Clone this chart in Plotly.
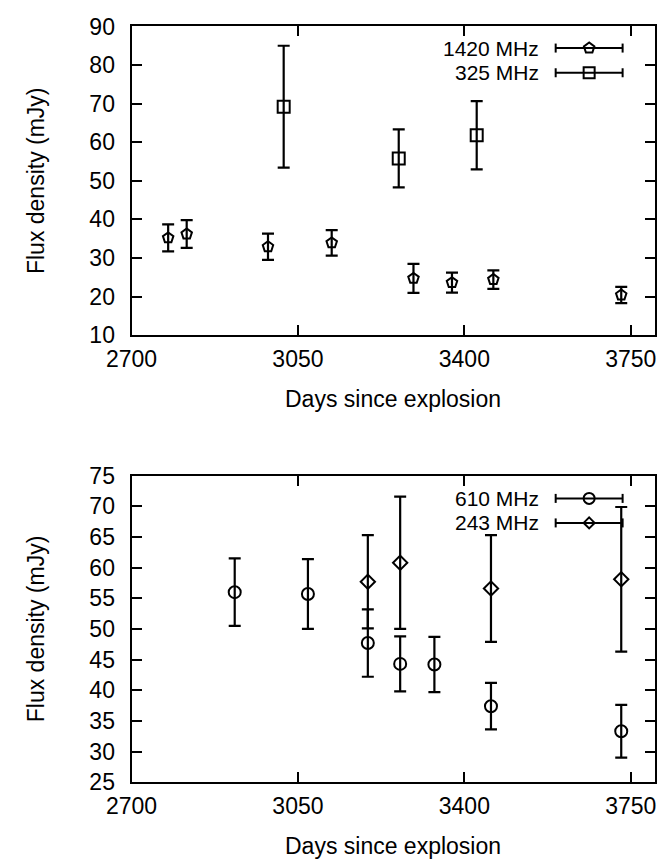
import math
import plotly.graph_objects as go

# ---- data ----
days_1420 = [2777, 2816, 2987, 3121, 3293, 3374, 3461, 3730]
flux_1420 = [35.2, 36.2, 32.9, 33.9, 24.7, 23.6, 24.4, 20.4]
err_1420 = [3.5, 3.6, 3.4, 3.3, 3.75, 2.6, 2.4, 2.1]

days_325 = [3020, 3262, 3426]
flux_325 = [69.2, 55.8, 61.8]
err_325 = [15.8, 7.5, 8.85]

days_610 = [2917, 3071, 3197, 3265, 3337, 3456, 3730]
flux_610 = [56.0, 55.7, 47.7, 44.3, 44.2, 37.4, 33.3]
err_610 = [5.5, 5.7, 5.5, 4.5, 4.5, 3.8, 4.3]

days_243 = [3197, 3265, 3456, 3730]
flux_243 = [57.7, 60.8, 56.6, 58.1]
err_243 = [7.6, 10.8, 8.7, 11.8]

x_ticks = [2700, 3050, 3400, 3750]
FONT = "Liberation Sans"
FS = 23
FS_LEG = 21

fig = go.Figure()


def add_series(x, y, e, symbol, size, xa, ya):
    fig.add_trace(go.Scatter(
        x=x, y=y, mode="markers", xaxis=xa, yaxis=ya, showlegend=False,
        marker=dict(symbol=symbol, size=size, color="black",
                    line=dict(color="black", width=2)),
        error_y=dict(type="data", array=e, visible=True, color="black",
                     thickness=2.2, width=6),
    ))


add_series(days_1420, flux_1420, err_1420, "pentagon-open", 11, "x", "y")
add_series(days_325, flux_325, err_325, "square-open", 12, "x", "y")
add_series(days_610, flux_610, err_610, "circle-open", 12, "x2", "y2")
add_series(days_243, flux_243, err_243, "diamond-open", 11, "x2", "y2")

axis_common = dict(
    showline=True, linecolor="black", linewidth=2, mirror="ticks",
    ticks="inside", ticklen=10, tickwidth=1.5, tickcolor="black",
    showgrid=False, zeroline=False,
    tickfont=dict(family=FONT, size=FS, color="black"),
)
xd = [0.1644, 0.979]


def xaxis_cfg(anchor):
    return dict(domain=xd, anchor=anchor, range=[2700, 3800], tickvals=x_ticks,
                ticklabelstandoff=2,
                title=dict(text="Days since explosion", standoff=20,
                           font=dict(family=FONT, size=FS)), **axis_common)


def yaxis_cfg(anchor, dom, rng, dt):
    return dict(domain=dom, anchor=anchor, range=rng, dtick=dt,
                ticklabelstandoff=10,
                title=dict(text="Flux density (mJy)", standoff=38,
                           font=dict(family=FONT, size=FS)), **axis_common)


fig.update_layout(
    width=669, height=867, autosize=False,
    margin=dict(l=0, r=0, t=0, b=0),
    paper_bgcolor="white", plot_bgcolor="white",
    font=dict(family=FONT, size=FS, color="black"),
    xaxis=xaxis_cfg("y"),
    yaxis=yaxis_cfg("x", [0.617, 0.984], [10, 90], 10),
    xaxis2=xaxis_cfg("y2"),
    yaxis2=yaxis_cfg("x2", [0.0854, 0.4498], [25, 75], 5),
)

# ---- custom gnuplot-style legends ----


def poly_path(pts):
    return "M " + " L ".join(f"{px:.2f},{py:.2f}" for px, py in pts) + " Z"


def marker_path(kind):
    if kind == "pentagon":
        r = 5.5
        pts = [(r * math.cos(math.radians(90 + 72 * k)),
                r * math.sin(math.radians(90 + 72 * k))) for k in range(5)]
        return poly_path(pts)
    if kind == "square":
        h = 5.5
        return poly_path([(-h, -h), (h, -h), (h, h), (-h, h)])
    if kind == "diamond":
        h = 5.5
        return poly_path([(0, h), (h, 0), (0, -h), (-h, 0)])
    return None


def legend_entry(xref, yref, yfrac, label, kind):
    x_text, x0, x1, xm = 0.7835, 0.811, 0.939, 0.875
    fig.add_annotation(xref=xref, yref=yref, x=x_text, y=yfrac, text=label,
                       showarrow=False, xanchor="right", yanchor="middle",
                       font=dict(family=FONT, size=FS_LEG, color="black"))
    line = dict(color="black", width=2)
    fig.add_shape(type="line", xref=xref, yref=yref, x0=x0, x1=x1,
                  y0=yfrac, y1=yfrac, line=line)
    for xc in (x0, x1):
        fig.add_shape(type="line", xref=xref, yref=yref, ysizemode="pixel",
                      yanchor=yfrac, x0=xc, x1=xc, y0=-4.5, y1=4.5, line=line)
    if kind == "circle":
        fig.add_shape(type="circle", xref=xref, yref=yref,
                      xsizemode="pixel", ysizemode="pixel",
                      xanchor=xm, yanchor=yfrac,
                      x0=-5.5, x1=5.5, y0=-5.5, y1=5.5, line=line)
    else:
        fig.add_shape(type="path", xref=xref, yref=yref,
                      xsizemode="pixel", ysizemode="pixel",
                      xanchor=xm, yanchor=yfrac,
                      path=marker_path(kind), line=line)


legend_entry("x domain", "y domain", 0.930, "1420 MHz", "pentagon")
legend_entry("x domain", "y domain", 0.850, "325 MHz", "square")
legend_entry("x2 domain", "y2 domain", 0.926, "610 MHz", "circle")
legend_entry("x2 domain", "y2 domain", 0.846, "243 MHz", "diamond")

fig.write_html("out.html")
